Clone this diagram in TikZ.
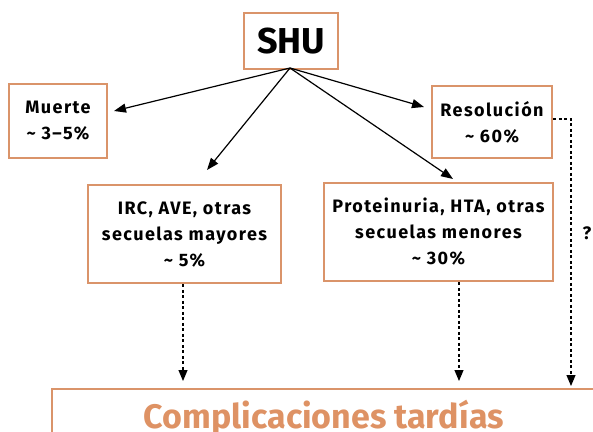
\documentclass[tikz,border=0pt]{standalone}
\usepackage{fontspec}
\setmainfont{Fira Sans}
\newfontfamily\boxfont{Fira Sans}[LetterSpace=8]
\usetikzlibrary{arrows.meta}
\definecolor{boxor}{RGB}{218,148,106}
\definecolor{txtor}{RGB}{222,146,100}
\begin{document}
\begin{tikzpicture}[x=1pt,y=-1pt,
  box/.style={draw=boxor,line width=2.5pt,inner sep=0pt,align=center,font=\boxfont\fontsize{18}{26}\selectfont\bfseries},
  arr/.style={line width=1.2pt,-{Triangle[length=12pt,width=9pt]}},
  darr/.style={line width=1.1pt,dash pattern=on 3pt off 2.5pt,-{Triangle[length=11pt,width=9pt]}}]
\useasboundingbox (0,0) rectangle (593,431);
\clip (0,0) rectangle (593,431);
\node[box,minimum width=94pt,minimum height=56pt,font=\fontsize{36}{40}\selectfont\bfseries] (shu) at (291,41) {SHU};
\node[box,minimum width=98pt,minimum height=74pt] (muerte) at (58,121) {Muerte\\\char"7E\ 3–5\%};
\node[box,minimum width=120pt,minimum height=72pt] (resol) at (492,122) {Resolución\\\char"7E\ 60\%};
\node[box,minimum width=193pt,minimum height=98pt] (irc) at (184.5,234) {IRC, AVE, otras\\secuelas mayores\\\char"7E\ 5\%};
\node[box,minimum width=229pt,minimum height=98pt] (prot) at (438.5,232) {Proteinuria, HTA, otras\\secuelas menores\\\char"7E\ 30\%};
\draw[boxor,line width=2.5pt] (52,470) -- (52,389) -- (620,389);
\node[anchor=base,text=txtor,font=\fontsize{34}{40}\selectfont\bfseries,inner sep=0pt] (comp) at (324,428) {Complicaciones tardías};
\node[font=\boxfont\fontsize{18}{20}\selectfont\bfseries] (q) at (587,233) {?};
\coordinate (o) at (290,68);
\coordinate (tm) at (114,111);
\coordinate (ti) at (207,170);
\coordinate (tr) at (424,107);
\coordinate (tp) at (453,179);
\draw[arr] (o) -- (tm);
\draw[arr] (o) -- (ti);
\draw[arr] (o) -- (tr);
\draw[arr] (o) -- (tp);
\coordinate (ct) at (0,381);
\coordinate (rt) at (571,386);
\draw[darr] ([xshift=-1.5pt]irc.south) -- ([xshift=-1.5pt]irc.south |- ct);
\draw[darr] ([xshift=20.5pt]prot.south) -- ([xshift=20.5pt]prot.south |- ct);
\draw[darr] ([yshift=3pt]resol.east) -| (rt);
\end{tikzpicture}
\end{document}
